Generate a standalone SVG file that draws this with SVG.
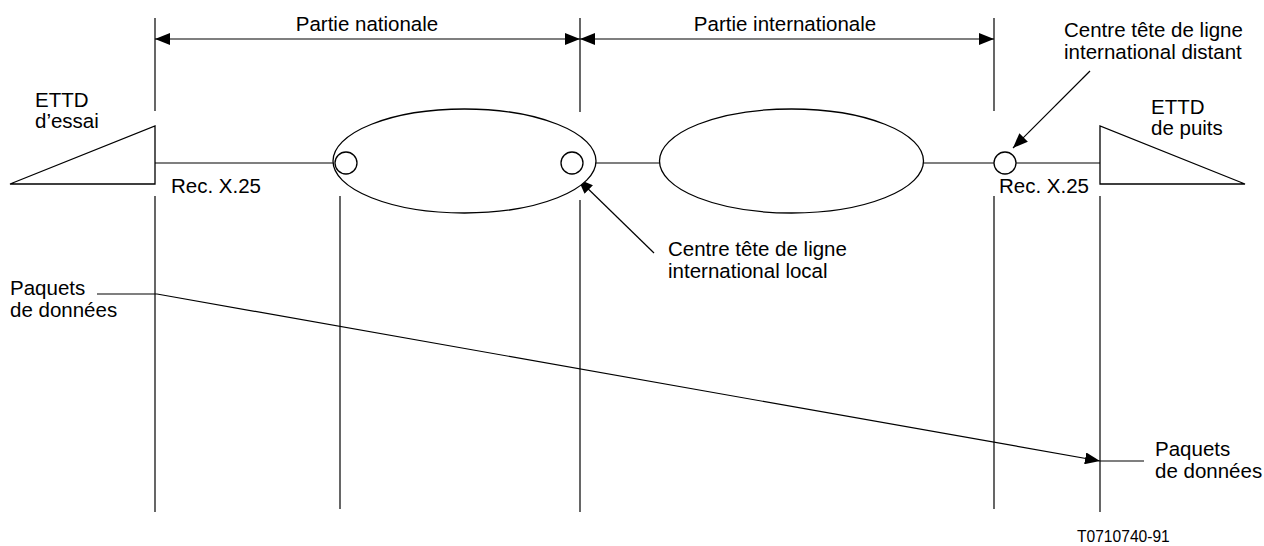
<svg xmlns="http://www.w3.org/2000/svg" width="1264" height="546" viewBox="0 0 1264 546">
<style>
.ln{stroke:#000;stroke-width:1.2;fill:none}
.sh{stroke:#000;stroke-width:1.3;fill:#fff}
text{font-family:"Liberation Sans",Arial,sans-serif;font-size:20.5px;fill:#000}
.sm{font-size:15.6px}
</style>
<defs>
<marker id="ah" markerUnits="userSpaceOnUse" markerWidth="15" markerHeight="12" refX="15" refY="6" orient="auto-start-reverse">
<path d="M0,0 L15,6 L0,12 z" fill="#000"/>
</marker>
</defs>
<g id="dimensions">
<line class="ln" x1="155" y1="18" x2="155" y2="111"/>
<line class="ln" x1="580" y1="18" x2="580" y2="112"/>
<line class="ln" x1="994" y1="18" x2="994" y2="111"/>
<line class="ln" x1="155" y1="39" x2="580" y2="39" marker-start="url(#ah)" marker-end="url(#ah)"/>
<line class="ln" x1="580" y1="39" x2="994" y2="39" marker-start="url(#ah)" marker-end="url(#ah)"/>
<text x="367" y="31" text-anchor="middle">Partie nationale</text>
<text x="785" y="31" text-anchor="middle">Partie internationale</text>
</g>
<g id="timelines">
<line class="ln" x1="155" y1="196" x2="155" y2="512"/>
<line class="ln" x1="340" y1="196" x2="340" y2="509"/>
<line class="ln" x1="580" y1="200" x2="580" y2="512"/>
<line class="ln" x1="994" y1="196" x2="994" y2="509"/>
<line class="ln" x1="1100" y1="196" x2="1100" y2="512"/>
</g>
<g id="connectors">
<line class="ln" x1="155" y1="163" x2="335" y2="163"/>
<line class="ln" x1="583" y1="163" x2="660" y2="163"/>
<line class="ln" x1="923" y1="163" x2="994" y2="163"/>
<line class="ln" x1="1016" y1="163" x2="1100" y2="163"/>
<line class="ln" x1="654" y1="253" x2="578" y2="179" marker-end="url(#ah)"/>
<line class="ln" x1="1090" y1="71" x2="1013" y2="148" marker-end="url(#ah)"/>
<polyline class="ln" points="97,294 157,294 1100,461" marker-end="url(#ah)"/>
<line class="ln" x1="1100" y1="461" x2="1144" y2="461"/>
</g>
<g id="ettd-essai">
<polygon class="sh" points="10,184 155,126 155,184"/>
<text x="35" y="107">ETTD</text>
<text x="35" y="128">d’essai</text>
</g>
<g id="reseau-national">
<ellipse class="sh" cx="464.5" cy="161" rx="131.5" ry="52"/>
</g>
<g id="reseau-international">
<ellipse class="sh" cx="791.5" cy="161" rx="132" ry="52"/>
</g>
<g id="centre-entree">
<circle class="sh" cx="346" cy="163" r="11"/>
</g>
<g id="centre-local">
<circle class="sh" cx="572" cy="163" r="11"/>
</g>
<g id="centre-distant">
<circle class="sh" cx="1005" cy="163" r="11"/>
</g>
<g id="ettd-puits">
<polygon class="sh" points="1100,126 1100,184 1245,184"/>
<text x="1151" y="114">ETTD</text>
<text x="1151" y="135">de puits</text>
</g>
<g id="labels">
<text x="171" y="193">Rec. X.25</text>
<text x="999" y="193">Rec. X.25</text>
<text x="1064" y="37">Centre tête de ligne</text>
<text x="1064" y="59">international distant</text>
<text x="668" y="256">Centre tête de ligne</text>
<text x="668" y="278">international local</text>
<text x="10" y="295">Paquets</text>
<text x="10" y="317">de données</text>
<text x="1155" y="456">Paquets</text>
<text x="1155" y="478">de données</text>
<text class="sm" x="1077" y="542">T0710740-91</text>
</g>
</svg>
